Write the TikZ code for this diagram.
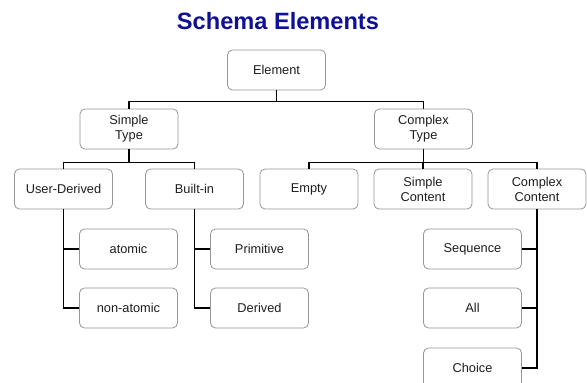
\documentclass[tikz,border=0pt]{standalone}
\usepackage{fontspec}
\setmainfont{Liberation Sans}
\usepackage{xcolor}
\usepackage{tikz}
\usetikzlibrary{positioning}
\definecolor{titleblue}{RGB}{16,16,150}
\definecolor{boxgray}{RGB}{150,150,150}
\definecolor{textgray}{RGB}{30,30,30}
\tikzstyle{link} = [line width=1.7pt, black]

\begin{document}
\begin{tikzpicture}[x=1pt, y=-1pt]
	\tikzstyle{every node}=[font=\fontsize{12.8}{15}\selectfont, align=center, text=textgray]
	\tikzstyle{box}=[draw=boxgray, line width=0.8pt, rounded corners=5pt, fill=white, minimum width=98pt, minimum height=40pt, inner sep=2pt]
	\useasboundingbox (0,0) rectangle (587,383);
	\node[font=\fontsize{23.6}{28}\selectfont\bfseries, text=titleblue] (title) at (278,21.5) {Schema Elements};
	\node[box]    (E)  at (276.5,70)  {Element};
	\node[box]    (ST) at (129,129)   {Simple\\Type};
	\node[box]    (CT) at (423.5,129) {Complex\\Type};
	\node[box]    (UD) at (63.5,189)  {User-Derived};
	\node[box]    (BI) at (194.5,189) {Built-in};
	\node[box]    (EM) at (309,189)   {Empty};
	\node[box]    (SC) at (423,189)   {Simple\\Content};
	\node[box]    (CC) at (537,189)   {Complex\\Content};
	\node[box]    (AT) at (128.5,249) {atomic};
	\node[box]    (NA) at (128.5,308) {non-atomic};
	\node[box]    (PR) at (259.5,249) {Primitive};
	\node[box]    (DE) at (259.5,308) {Derived};
	\node[box]    (SQ) at (472.5,249) {Sequence};
	\node[box]    (AL) at (472.5,308) {All};
	\node[box]    (CH) at (472.5,368) {Choice};
	% tree links
	\foreach \c in {ST,CT}
		\draw[link] (E.south) -- ++(0,11) -| (\c.north);
	\foreach \c in {UD,BI}
		\draw[link] (ST.south) -- ++(0,13) -| (\c.north);
	\foreach \c in {EM,SC,CC}
		\draw[link] (CT.south) -- ++(0,13) -| (\c.north);
	\foreach \c in {AT,NA}
		\draw[link] (UD.south) |- (\c.west);
	\foreach \c in {PR,DE}
		\draw[link] (BI.south) |- (\c.west);
	\foreach \c in {SQ,AL,CH}
		\draw[link] (CC.south) |- (\c.east);
\end{tikzpicture}
\end{document}
